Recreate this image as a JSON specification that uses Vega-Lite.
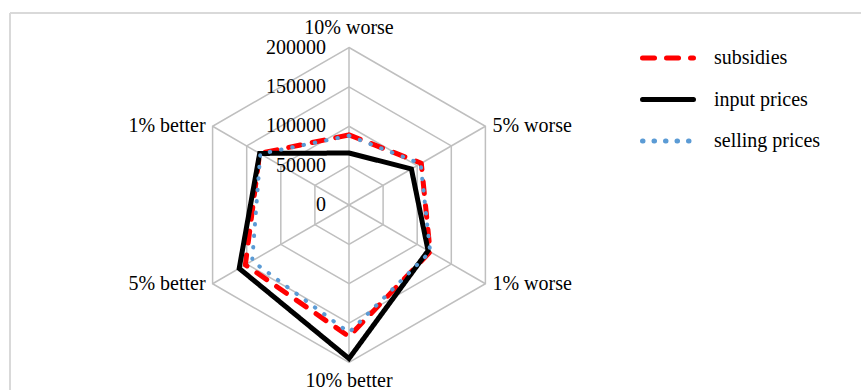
{
  "$schema": "https://vega.github.io/schema/vega-lite/v6.json",
  "width": 851,
  "height": 377,
  "autosize": {"type": "none"},
  "padding": {"left": 10, "top": 13, "right": 0, "bottom": 0},
  "background": "white",
  "config": {
    "view": {"stroke": null},
    "font": "Liberation Serif, Times New Roman, Times, serif",
    "text": {"font": "Liberation Serif, Times New Roman, Times, serif", "fontSize": 20, "color": "black"},
    "legend": {
      "orient": "none",
      "legendX": 630,
      "legendY": 17,
      "title": null,
      "symbolType": "stroke",
      "symbolSize": 2600,
      "symbolStrokeWidth": 5,
      "labelFont": "Liberation Serif, Times New Roman, Times, serif",
      "labelFontSize": 20,
      "labelColor": "black",
      "labelOffset": 18,
      "rowPadding": 3.5,
      "padding": 0
    }
  },
  "datasets": {
    "series": [
      {"series": "subsidies", "category": "10% worse", "value": 89000},
      {"series": "subsidies", "category": "5% worse", "value": 106000},
      {"series": "subsidies", "category": "1% worse", "value": 119000},
      {"series": "subsidies", "category": "10% better", "value": 167000},
      {"series": "subsidies", "category": "5% better", "value": 152000},
      {"series": "subsidies", "category": "1% better", "value": 131000},
      {"series": "input prices", "category": "10% worse", "value": 66000},
      {"series": "input prices", "category": "5% worse", "value": 91500},
      {"series": "input prices", "category": "1% worse", "value": 116000},
      {"series": "input prices", "category": "10% better", "value": 195000},
      {"series": "input prices", "category": "5% better", "value": 161000},
      {"series": "input prices", "category": "1% better", "value": 131000},
      {"series": "selling prices", "category": "10% worse", "value": 88000},
      {"series": "selling prices", "category": "5% worse", "value": 105000},
      {"series": "selling prices", "category": "1% worse", "value": 119000},
      {"series": "selling prices", "category": "10% better", "value": 162000},
      {"series": "selling prices", "category": "5% better", "value": 142000},
      {"series": "selling prices", "category": "1% better", "value": 130000}
    ],
    "grid": [
      {"level": 50000, "category": "10% worse"}, {"level": 50000, "category": "5% worse"}, {"level": 50000, "category": "1% worse"},
      {"level": 50000, "category": "10% better"}, {"level": 50000, "category": "5% better"}, {"level": 50000, "category": "1% better"},
      {"level": 100000, "category": "10% worse"}, {"level": 100000, "category": "5% worse"}, {"level": 100000, "category": "1% worse"},
      {"level": 100000, "category": "10% better"}, {"level": 100000, "category": "5% better"}, {"level": 100000, "category": "1% better"},
      {"level": 150000, "category": "10% worse"}, {"level": 150000, "category": "5% worse"}, {"level": 150000, "category": "1% worse"},
      {"level": 150000, "category": "10% better"}, {"level": 150000, "category": "5% better"}, {"level": 150000, "category": "1% better"},
      {"level": 200000, "category": "10% worse"}, {"level": 200000, "category": "5% worse"}, {"level": 200000, "category": "1% worse"},
      {"level": 200000, "category": "10% better"}, {"level": 200000, "category": "5% better"}, {"level": 200000, "category": "1% better"}
    ],
    "ticks": [
      {"level": 0, "label": "0"},
      {"level": 50000, "label": "50000"},
      {"level": 100000, "label": "100000"},
      {"level": 150000, "label": "150000"},
      {"level": 200000, "label": "200000"}
    ],
    "frame": [
      {"x": -430476, "y": -234920, "x2": -430476, "y2": 243810},
      {"x": -430476, "y": 243810, "x2": 650158, "y2": 243810}
    ]
  },
  "layer": [
    {
      "data": {"name": "frame"},
      "mark": {"type": "rule", "color": "#D9D9D9", "strokeWidth": 2},
      "encoding": {
        "x": {"field": "x", "type": "quantitative", "scale": {"domain": [-430476, 650158], "nice": false, "zero": false}, "axis": null},
        "y": {"field": "y", "type": "quantitative", "scale": {"domain": [-234920, 243810], "nice": false, "zero": false}, "axis": null},
        "x2": {"field": "x2"},
        "y2": {"field": "y2"}
      }
    },
    {
      "data": {"name": "grid"},
      "transform": [
        {"calculate": "indexof(['10% worse','5% worse','1% worse','10% better','5% better','1% better'], datum.category)", "as": "idx"},
        {"calculate": "PI/2 - datum.idx*PI/3", "as": "ang"},
        {"calculate": "datum.level*cos(datum.ang)", "as": "px"},
        {"calculate": "datum.level*sin(datum.ang)", "as": "py"}
      ],
      "mark": {"type": "line", "interpolate": "linear-closed", "color": "#BFBFBF", "strokeWidth": 1.5},
      "encoding": {
        "x": {"field": "px", "type": "quantitative"},
        "y": {"field": "py", "type": "quantitative"},
        "detail": {"field": "level"},
        "order": {"field": "idx"}
      }
    },
    {
      "data": {"name": "grid"},
      "transform": [
        {"filter": "datum.level == 200000"},
        {"calculate": "indexof(['10% worse','5% worse','1% worse','10% better','5% better','1% better'], datum.category)", "as": "idx"},
        {"calculate": "PI/2 - datum.idx*PI/3", "as": "ang"},
        {"calculate": "datum.level*cos(datum.ang)", "as": "px"},
        {"calculate": "datum.level*sin(datum.ang)", "as": "py"},
        {"calculate": "0", "as": "zero"}
      ],
      "mark": {"type": "rule", "color": "#BFBFBF", "strokeWidth": 1.5},
      "encoding": {
        "x": {"field": "px", "type": "quantitative"},
        "y": {"field": "py", "type": "quantitative"},
        "x2": {"field": "zero"},
        "y2": {"field": "zero"}
      }
    },
    {
      "data": {"name": "ticks"},
      "transform": [{"calculate": "0", "as": "zero"}],
      "mark": {"type": "text", "align": "right", "baseline": "middle", "dx": -23, "font": "Liberation Serif, Times New Roman, Times, serif"},
      "encoding": {
        "x": {"field": "zero", "type": "quantitative"},
        "y": {"field": "level", "type": "quantitative"},
        "text": {"field": "label"}
      }
    },
    {
      "data": {"name": "grid"},
      "transform": [
        {"filter": "datum.level == 200000 && (datum.category == '10% worse')"},
        {"calculate": "0", "as": "zero"}
      ],
      "mark": {"type": "text", "align": "center", "baseline": "alphabetic", "dy": -14, "font": "Liberation Serif, Times New Roman, Times, serif"},
      "encoding": {
        "x": {"field": "zero", "type": "quantitative"},
        "y": {"field": "level", "type": "quantitative"},
        "text": {"field": "category"}
      }
    },
    {
      "data": {"name": "grid"},
      "transform": [
        {"filter": "datum.level == 200000 && (datum.category == '10% better')"},
        {"calculate": "0", "as": "zero"},
        {"calculate": "-datum.level", "as": "py"}
      ],
      "mark": {"type": "text", "align": "center", "baseline": "alphabetic", "dy": 24, "font": "Liberation Serif, Times New Roman, Times, serif"},
      "encoding": {
        "x": {"field": "zero", "type": "quantitative"},
        "y": {"field": "py", "type": "quantitative"},
        "text": {"field": "category"}
      }
    },
    {
      "data": {"name": "grid"},
      "transform": [
        {"filter": "datum.level == 200000 && (datum.category == '5% worse' || datum.category == '1% worse')"},
        {"calculate": "indexof(['10% worse','5% worse','1% worse','10% better','5% better','1% better'], datum.category)", "as": "idx"},
        {"calculate": "PI/2 - datum.idx*PI/3", "as": "ang"},
        {"calculate": "datum.level*cos(datum.ang)", "as": "px"},
        {"calculate": "datum.level*sin(datum.ang)", "as": "py"}
      ],
      "mark": {"type": "text", "align": "left", "baseline": "middle", "dx": 7, "font": "Liberation Serif, Times New Roman, Times, serif"},
      "encoding": {
        "x": {"field": "px", "type": "quantitative"},
        "y": {"field": "py", "type": "quantitative"},
        "text": {"field": "category"}
      }
    },
    {
      "data": {"name": "grid"},
      "transform": [
        {"filter": "datum.level == 200000 && (datum.category == '5% better' || datum.category == '1% better')"},
        {"calculate": "indexof(['10% worse','5% worse','1% worse','10% better','5% better','1% better'], datum.category)", "as": "idx"},
        {"calculate": "PI/2 - datum.idx*PI/3", "as": "ang"},
        {"calculate": "datum.level*cos(datum.ang)", "as": "px"},
        {"calculate": "datum.level*sin(datum.ang)", "as": "py"}
      ],
      "mark": {"type": "text", "align": "right", "baseline": "middle", "dx": -7, "font": "Liberation Serif, Times New Roman, Times, serif"},
      "encoding": {
        "x": {"field": "px", "type": "quantitative"},
        "y": {"field": "py", "type": "quantitative"},
        "text": {"field": "category"}
      }
    },
    {
      "data": {"name": "series"},
      "transform": [
        {"filter": "datum.series == 'subsidies'"},
        {"calculate": "indexof(['10% worse','5% worse','1% worse','10% better','5% better','1% better'], datum.category)", "as": "idx"},
        {"calculate": "PI/2 - datum.idx*PI/3", "as": "ang"},
        {"calculate": "datum.value*cos(datum.ang)", "as": "px"},
        {"calculate": "datum.value*sin(datum.ang)", "as": "py"}
      ],
      "mark": {"type": "line", "interpolate": "linear-closed", "strokeWidth": 5, "strokeCap": "round", "strokeJoin": "round"},
      "encoding": {
        "x": {"field": "px", "type": "quantitative"},
        "y": {"field": "py", "type": "quantitative"},
        "order": {"field": "idx"},
        "color": {"field": "series", "type": "nominal", "scale": {"domain": ["subsidies", "input prices", "selling prices"], "range": ["#FF0000", "#000000", "#5B9BD5"]},
          "legend": {"encode": {"symbols": {"update": {"strokeCap": {"value": "round"}}}}}},
        "strokeDash": {"field": "series", "type": "nominal", "scale": {"domain": ["subsidies", "input prices", "selling prices"], "range": [[12, 12], [1, 0], [0.5, 11]]}}
      }
    },
    {
      "data": {"name": "series"},
      "transform": [
        {"filter": "datum.series == 'input prices'"},
        {"calculate": "indexof(['10% worse','5% worse','1% worse','10% better','5% better','1% better'], datum.category)", "as": "idx"},
        {"calculate": "PI/2 - datum.idx*PI/3", "as": "ang"},
        {"calculate": "datum.value*cos(datum.ang)", "as": "px"},
        {"calculate": "datum.value*sin(datum.ang)", "as": "py"}
      ],
      "mark": {"type": "line", "interpolate": "linear-closed", "strokeWidth": 5, "strokeJoin": "miter"},
      "encoding": {
        "x": {"field": "px", "type": "quantitative"},
        "y": {"field": "py", "type": "quantitative"},
        "order": {"field": "idx"},
        "color": {"field": "series", "type": "nominal"},
        "strokeDash": {"field": "series", "type": "nominal"}
      }
    },
    {
      "data": {"name": "series"},
      "transform": [
        {"filter": "datum.series == 'selling prices'"},
        {"calculate": "indexof(['10% worse','5% worse','1% worse','10% better','5% better','1% better'], datum.category)", "as": "idx"},
        {"calculate": "PI/2 - datum.idx*PI/3", "as": "ang"},
        {"calculate": "datum.value*cos(datum.ang)", "as": "px"},
        {"calculate": "datum.value*sin(datum.ang)", "as": "py"}
      ],
      "mark": {"type": "line", "interpolate": "linear-closed", "strokeWidth": 4, "strokeCap": "round"},
      "encoding": {
        "x": {"field": "px", "type": "quantitative"},
        "y": {"field": "py", "type": "quantitative"},
        "order": {"field": "idx"},
        "color": {"field": "series", "type": "nominal"},
        "strokeDash": {"field": "series", "type": "nominal"}
      }
    }
  ]
}
